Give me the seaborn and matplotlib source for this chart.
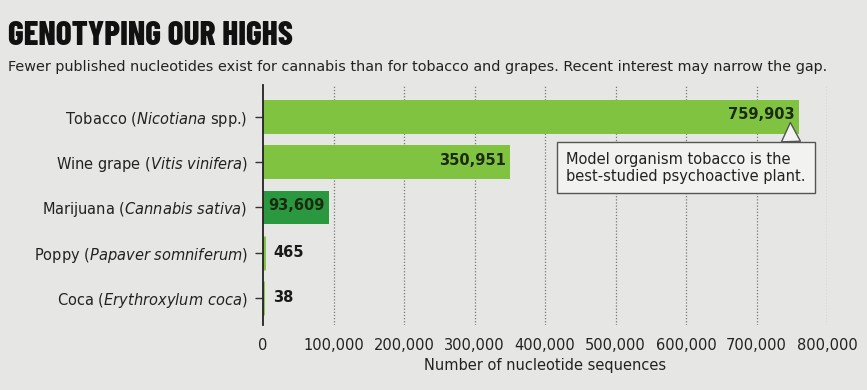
"""
Genotyping our highs: published nucleotide sequences per psychoactive plant.
"""

import matplotlib
matplotlib.use('Agg')
import matplotlib.pyplot as plt
import seaborn as sns
import pandas as pd

plants = ['Tobacco', 'Wine grape', 'Marijuana', 'Poppy', 'Coca']
species = ['Nicotiana', 'Vitis\\ vinifera', 'Cannabis\\ sativa',
           'Papaver\\ somniferum', 'Erythroxylum\\ coca']
suffix = [' spp.', '', '', '', '']
sequences = [759903, 350951, 93609, 465, 38]
xticks = [0, 100000, 200000, 300000, 400000, 500000, 600000, 700000, 800000]

LIGHT = '#80c341'
DARK = '#2a983f'
BG = '#e6e7e4'
colors = [LIGHT, LIGHT, DARK, LIGHT, LIGHT]

sns.set_style('white')
plt.rcParams['font.family'] = ['DejaVu Sans']
plt.rcParams['mathtext.fontset'] = 'custom'
plt.rcParams['mathtext.rm'] = 'DejaVu Sans'
plt.rcParams['mathtext.it'] = 'DejaVu Sans:italic'

labels = [f'{p} ($\\it{{{s}}}${x})' for p, s, x in zip(plants, species, suffix)]
df = pd.DataFrame({'label': labels, 'value': sequences})

fig = plt.figure(figsize=(8.67, 3.9), dpi=100, facecolor=BG)
ax = fig.add_axes([263 / 867, 1 - 325 / 390, (827 - 263) / 867, 240 / 390])
ax.set_facecolor(BG)

sns.barplot(data=df, x='value', y='label', hue='label', palette=colors,
            legend=False, width=0.75, saturation=1, linewidth=0, ax=ax, zorder=3)
# tiny bars still show as a thin sliver in the original
for bar in ax.patches:
    if bar.get_width() < 10000:
        bar.set_edgecolor(bar.get_facecolor())
        bar.set_linewidth(3.5 if bar.get_width() > 100 else 2)

ax.set_xlim(0, 800000)
ax.set_ylim(4.6, -0.71)
ax.set_xticks(xticks)
ax.set_xticklabels(['0'] + [f'{v:,}' for v in xticks[1:]], fontsize=10.5, color='#222')
ax.tick_params(axis='x', length=0, pad=9)
ax.tick_params(axis='y', length=6, width=1, color='#333', pad=5, left=True)
ax.set_yticks(range(len(labels)))
ax.set_yticklabels(labels, fontsize=10.5, color='#222')
ax.set_ylabel('')
ax.set_xlabel('Number of nucleotide sequences', fontsize=10.5, color='#222', labelpad=4)

for s in ['top', 'right', 'bottom']:
    ax.spines[s].set_visible(False)
ax.spines['left'].set_color('#222')
ax.spines['left'].set_linewidth(1.3)
ax.spines['left'].set_zorder(4)

for v in xticks[1:]:
    ax.axvline(v, color='#777', lw=0.9, ls=(0, (1, 1.5)), zorder=1)

# value labels
for i, v in enumerate(sequences):
    txt = f'{v:,}'
    if v > 50000:
        ax.text(v - 6000, i - 0.05, txt, ha='right', va='center', fontsize=10.5,
                fontweight='bold', color='#1c2a12', zorder=5)
    else:
        ax.text(v + 14000, i, txt, ha='left', va='center', fontsize=10.5,
                fontweight='bold', color='#1a1a1a', zorder=5)

ax.annotate('Model organism tobacco is the\nbest-studied psychoactive plant.',
            xy=(748000, 0.12), xytext=(430000, 1.12),
            fontsize=10.5, color='#222', ha='left', va='center', zorder=6,
            bbox=dict(boxstyle='square,pad=0.65', fc='#f2f2f0', ec='#555', lw=1),
            arrowprops=dict(arrowstyle='wedge,tail_width=1.3', fc='#f2f2f0',
                            ec='#555', lw=1, relpos=(0.94, 1.0),
                            shrinkA=0, shrinkB=0))

fig.text(8 / 867, 1 - 36 / 390, 'GENOTYPING OUR HIGHS', fontsize=24,
         fontweight='heavy', va='center', ha='left', color='#111',
         family=['Barlow Condensed', 'Bebas Neue', 'DejaVu Sans'])
fig.text(8 / 867, 1 - 67 / 390,
         'Fewer published nucleotides exist for cannabis than for tobacco and grapes. '
         'Recent interest may narrow the gap.',
         fontsize=10.4, va='center', ha='left', color='#222')

plt.savefig('out.png', dpi=100, facecolor=BG)
